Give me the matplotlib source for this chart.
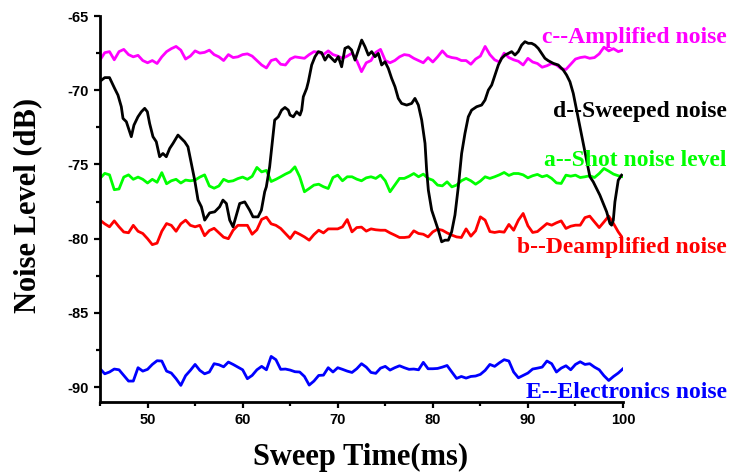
# -*- coding: utf-8 -*-
"""
Noise level versus sweep time for the five measured traces
"""

import numpy as np
import matplotlib
matplotlib.use("Agg")
import matplotlib.pyplot as plt
from matplotlib.ticker import MultipleLocator

plt.rcParams["axes.unicode_minus"] = False

# ============================================================
# Data (dB), noise traces sampled every 0.5 ms
# ============================================================

t_half = np.arange(45.0, 100.01, 0.5)

amplified = [
    -67.97, -67.47, -67.40, -67.95, -67.40, -67.25, -67.60, -67.75, -67.65, -68.00,
    -68.15, -68.00, -68.20, -67.75, -67.40, -67.20, -67.05, -67.30, -67.90, -67.70,
    -67.35, -67.50, -67.45, -67.30, -67.60, -67.75, -68.00, -67.60, -67.80, -67.75,
    -67.60, -67.55, -67.70, -68.00, -68.30, -68.50, -68.00, -67.90, -68.25, -68.30,
    -67.90, -67.75, -67.80, -67.85, -67.60, -67.40, -67.45, -67.60, -67.35, -67.60,
    -67.70, -67.85, -67.70, -67.50, -68.00, -68.75, -68.15, -68.00, -67.45, -67.25,
    -68.00, -68.15, -68.00, -67.75, -67.60, -67.65, -67.85, -68.00, -68.15, -67.80,
    -68.10, -67.75, -67.35, -67.70, -67.80, -67.85, -68.00, -68.00, -68.25, -67.90,
    -67.70, -67.05, -67.60, -67.95, -68.10, -67.50, -67.80, -67.95, -68.05, -68.30,
    -67.85, -68.10, -68.20, -68.45, -68.35, -68.20, -68.30, -68.55, -68.60, -68.25,
    -67.90, -67.80, -67.75, -67.85, -67.80, -67.55, -67.10, -67.35, -67.20, -67.40,
    -67.30,
]

shot = [
    -75.94, -75.60, -75.70, -76.70, -76.65, -75.85, -75.70, -76.00, -75.85, -76.00,
    -76.25, -76.00, -76.20, -75.55, -76.30, -76.10, -76.00, -76.25, -76.05, -76.10,
    -76.05, -75.85, -75.70, -76.45, -76.60, -76.45, -76.00, -76.15, -76.10, -75.95,
    -75.85, -76.00, -75.80, -75.20, -75.50, -75.40, -76.15, -76.00, -75.83, -75.65,
    -75.50, -75.16, -75.83, -76.84, -76.62, -76.39, -76.33, -76.50, -76.62, -75.88,
    -75.72, -76.10, -75.83, -75.83, -75.99, -76.10, -75.90, -75.83, -75.94, -75.72,
    -76.10, -76.84, -76.39, -75.94, -75.94, -75.79, -75.61, -75.83, -75.65, -75.94,
    -76.06, -76.39, -76.44, -76.17, -76.51, -76.39, -76.10, -75.94, -76.10, -76.33,
    -76.12, -75.83, -75.94, -75.83, -75.70, -75.54, -75.74, -75.61, -75.61, -75.70,
    -75.90, -75.76, -75.67, -75.83, -75.74, -75.94, -76.24, -76.28, -75.72, -75.79,
    -75.72, -75.88, -75.83, -75.76, -75.88, -75.61, -75.27, -75.45, -75.65, -75.76,
    -75.83,
]

deamplified = [
    -78.75, -79.00, -79.20, -78.80, -79.20, -79.55, -79.60, -79.10, -79.50, -79.65,
    -80.00, -80.40, -80.30, -79.50, -78.98, -79.10, -79.50, -79.00, -78.75, -79.10,
    -79.20, -79.10, -79.80, -79.45, -79.30, -79.60, -79.90, -80.00, -79.43, -79.10,
    -79.10, -79.10, -79.70, -79.40, -78.70, -78.55, -79.00, -79.10, -79.31, -79.65,
    -79.99, -79.54, -79.70, -79.88, -80.10, -79.72, -79.43, -79.61, -79.34, -79.34,
    -79.34, -79.20, -78.71, -79.54, -79.25, -79.22, -79.49, -79.34, -79.40, -79.43,
    -79.43, -79.61, -79.76, -79.92, -79.92, -79.88, -79.47, -79.65, -79.70, -79.88,
    -79.54, -79.36, -79.43, -79.61, -79.76, -79.88, -79.92, -79.34, -79.83, -79.47,
    -78.53, -78.75, -79.52, -79.58, -79.52, -79.56, -79.04, -79.43, -78.75, -78.30,
    -79.13, -79.58, -79.52, -79.25, -78.98, -79.09, -78.93, -78.80, -79.31, -79.16,
    -79.09, -79.09, -78.58, -78.48, -78.87, -79.25, -78.87, -78.48, -78.98, -79.54,
    -79.99,
]

electronics = [
    -88.76, -89.10, -88.98, -88.78, -88.83, -89.21, -89.59, -89.59, -88.69, -88.92,
    -88.80, -88.47, -88.22, -88.24, -88.92, -89.05, -89.43, -89.88, -89.23, -88.87,
    -88.47, -88.87, -89.10, -88.98, -88.42, -88.49, -88.63, -88.31, -88.47, -88.65,
    -88.83, -89.43, -89.21, -88.83, -88.60, -88.83, -87.93, -88.15, -88.80, -88.78,
    -88.85, -88.96, -88.98, -89.28, -89.86, -89.59, -89.21, -89.19, -88.69, -88.98,
    -88.69, -88.80, -88.92, -89.01, -88.76, -88.42, -88.65, -89.01, -89.07, -88.72,
    -88.60, -88.85, -88.69, -88.56, -88.69, -88.80, -88.78, -88.83, -88.33, -88.76,
    -88.76, -88.74, -88.65, -88.54, -88.98, -89.41, -89.28, -89.39, -89.28, -89.25,
    -89.14, -88.87, -88.47, -88.60, -88.36, -88.15, -88.24, -88.98, -89.37, -89.21,
    -89.05, -88.78, -88.72, -88.65, -88.24, -88.42, -88.98, -88.72, -88.56, -88.83,
    -88.47, -88.29, -88.47, -88.42, -88.65, -88.83, -89.23, -89.55, -89.28, -89.05,
    -88.76,
]

# swept trace, read at its own time points
t_sweep = [
    45.00, 45.50, 46.00, 46.54, 46.89, 47.24, 47.42, 47.77, 48.12, 48.29,
    48.57, 48.99, 49.35, 49.70, 49.98, 50.22, 50.57, 50.92, 51.27, 51.62,
    51.97, 52.33, 52.68, 53.20, 53.55, 53.90, 54.25, 54.60, 54.96, 55.31,
    55.66, 56.01, 56.53, 57.06, 57.58, 57.93, 58.29, 58.64, 58.99, 59.34,
    59.69, 60.22, 60.74, 61.09, 61.62, 61.97, 62.32, 62.49, 62.84, 63.37,
    63.75, 64.10, 64.45, 64.80, 64.98, 65.33, 65.68, 66.03, 66.21, 66.38,
    66.73, 66.91, 67.26, 67.61, 67.96, 68.31, 68.66, 69.01, 69.36, 69.71,
    70.06, 70.41, 70.76, 71.11, 71.46, 71.82, 72.17, 72.52, 72.87, 73.22,
    73.57, 73.92, 74.27, 74.62, 74.97, 75.32, 75.67, 76.02, 76.37, 76.72,
    77.25, 77.77, 78.12, 78.48, 78.83, 79.18, 79.35, 79.53, 79.88, 80.23,
    80.58, 80.93, 81.28, 81.63, 81.98, 82.33, 82.68, 83.03, 83.38, 83.73,
    84.08, 84.61, 85.13, 85.49, 85.84, 86.19, 86.54, 86.89, 87.24, 87.59,
    87.94, 88.29, 88.64, 88.99, 89.34, 89.69, 90.04, 90.39, 90.74, 91.09,
    91.44, 91.79, 92.14, 92.67, 93.19, 93.72, 94.07, 94.42, 94.77, 95.12,
    95.47, 95.82, 96.17, 96.52, 96.87, 97.22, 97.57, 97.92, 98.28, 98.63,
    98.80, 98.98, 99.15, 99.50, 99.85,
]

swept = [
    -69.40, -69.15, -69.15, -69.88, -70.33, -71.11, -71.90, -72.12, -72.80, -73.13,
    -72.35, -71.79, -71.45, -71.22, -71.45, -72.24, -73.13, -73.47, -74.48, -74.26,
    -74.48, -73.92, -73.58, -73.02, -73.25, -73.47, -73.81, -74.93, -76.06, -77.40,
    -77.85, -78.75, -78.26, -78.19, -77.85, -77.40, -77.63, -78.75, -79.20, -78.42,
    -77.63, -77.52, -78.08, -78.53, -78.53, -78.08, -76.84, -76.51, -75.16, -72.01,
    -71.79, -71.34, -71.16, -71.34, -71.67, -71.79, -71.45, -71.67, -71.34, -70.44,
    -69.88, -69.43, -68.30, -67.74, -67.40, -67.47, -67.97, -67.63, -67.85, -68.08,
    -67.74, -68.42, -67.18, -67.07, -67.29, -67.97, -67.29, -66.62, -67.07, -67.63,
    -67.40, -67.74, -67.52, -68.30, -68.08, -68.53, -69.20, -69.76, -70.55, -70.89,
    -71.00, -70.89, -70.55, -71.00, -72.01, -73.58, -75.38, -76.73, -78.08, -78.75,
    -79.43, -80.21, -80.10, -80.10, -79.54, -78.40, -76.51, -74.26, -72.91, -71.79,
    -71.34, -71.11, -71.00, -70.66, -69.99, -69.65, -68.98, -68.30, -67.85, -67.63,
    -67.52, -67.40, -67.63, -67.40, -66.96, -66.73, -66.84, -66.84, -66.96, -67.18,
    -67.52, -67.85, -68.01, -68.19, -68.30, -68.64, -68.98, -69.43, -70.21, -71.34,
    -72.46, -73.58, -74.71, -75.83, -76.17, -76.62, -77.07, -77.63, -78.19, -78.98,
    -79.09, -78.75, -77.52, -76.06, -75.72,
]

labels = ["c--Amplified noise", "d--Sweeped noise", "a--Shot noise level",
          "b--Deamplified noise", "E--Electronics noise"]
label_colors = ["#FF00FF", "black", "#00FF00", "#FF0000", "#0000FF"]
label_rows = [37, 112, 161, 247, 393]   # pixel rows from top

# ============================================================
# Plot
# ============================================================

W, H = 730, 475
fig = plt.figure(figsize=(W / 100, H / 100), dpi=100)
ax = fig.add_axes([100 / W, 1 - 402 / H, 523 / W, 386 / H])

lw = 2.0
ax.plot(t_half, amplified, color="#FF00FF", lw=lw)
ax.plot(t_half, shot, color="#00FF00", lw=lw)
ax.plot(t_half, deamplified, color="#FF0000", lw=lw)
ax.plot(t_half, electronics, color="#0000FF", lw=lw)
ax.plot(t_sweep, swept, color="black", lw=lw)

ax.set_xlim(45, 100)
ax.set_ylim(-91, -65)

ax.xaxis.set_major_locator(MultipleLocator(10))
ax.xaxis.set_minor_locator(MultipleLocator(5))
ax.yaxis.set_major_locator(MultipleLocator(5))
ax.yaxis.set_minor_locator(MultipleLocator(2.5))

for s in ["top", "right"]:
    ax.spines[s].set_visible(False)
for s in ["left", "bottom"]:
    ax.spines[s].set_linewidth(2.0)

ax.tick_params(which="major", direction="out", length=4, width=1.6, pad=4)
ax.tick_params(which="minor", direction="out", length=3, width=1.6)

for lab in ax.get_xticklabels() + ax.get_yticklabels():
    lab.set_fontfamily("Liberation Sans")
    lab.set_fontweight("bold")
    lab.set_fontsize(10.5)

serif = "Liberation Serif"
fig.text(361 / W, 1 - 457 / H, "Sweep Time(ms)", ha="center", va="center",
         fontfamily=serif, fontweight="bold", fontsize=22)
fig.text(28 / W, 1 - 205 / H, "Noise Level (dB)", ha="center", va="center",
         rotation=90, fontfamily=serif, fontweight="bold", fontsize=22)

for text, c, row in zip(labels, label_colors, label_rows):
    fig.text(727 / W, 1 - row / H, text, ha="right", va="center", color=c,
             fontfamily=serif, fontweight="bold", fontsize=17)

fig.savefig("out.png", dpi=100)
